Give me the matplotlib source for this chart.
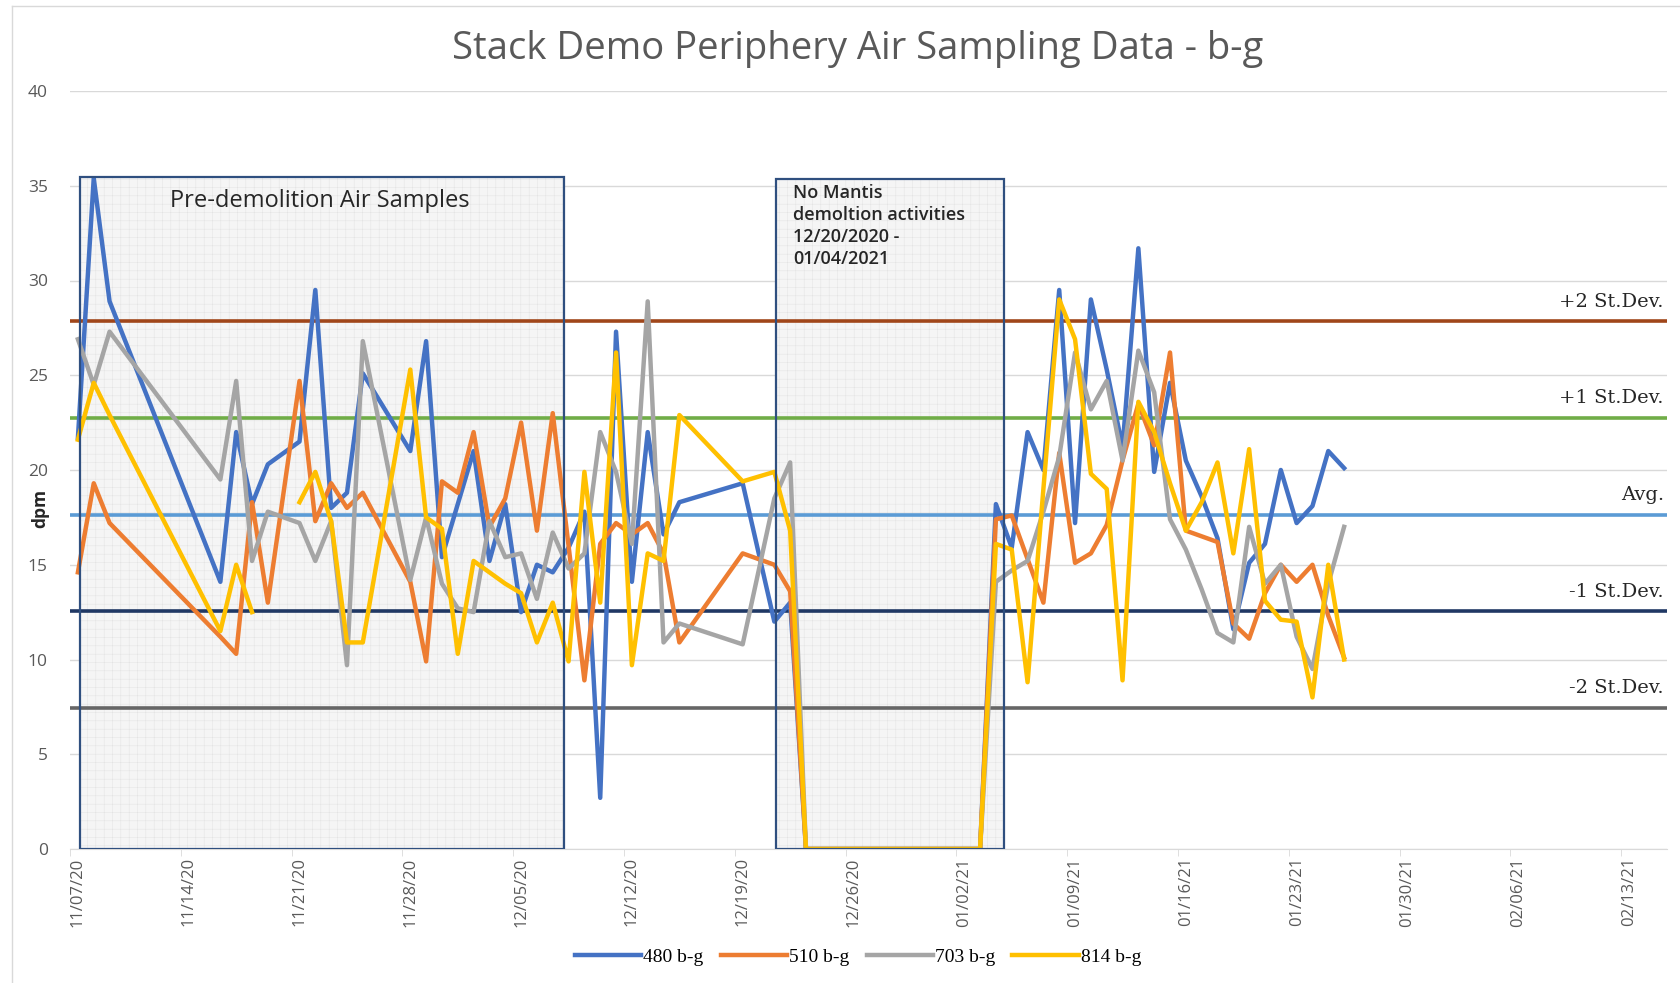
import numpy as np
import pandas as pd
import matplotlib
matplotlib.use("Agg")
import matplotlib.pyplot as plt
import matplotlib.dates as mdates
from matplotlib.patches import Rectangle
from matplotlib.lines import Line2D

# ----------------- data -----------------
start = pd.Timestamp("2020-11-07")

# days since 11/07/20 for each sample
sample_days = [0, 1, 2, 9, 10, 11, 12, 14, 15, 16, 17, 18, 21, 22, 23, 24, 25, 26, 27, 28,
               29, 30, 31, 32, 33, 34, 35, 36, 37, 38, 42, 44, 45, 46, 57, 58, 59, 60, 61, 62,
               63, 64, 65, 66, 67, 68, 69, 70, 71, 72, 73, 74, 75, 76, 77, 78, 79, 80]

s480 = [21.7, 35.4, 28.9, 14.1, 22.0, 18.2, 20.3, 21.5, 29.5, 18.0, 18.8, 25.1, 21.0, 26.8, 15.4, 18.2, 21.0, 15.2, 18.2, 12.5,
        15.0, 14.6, 15.9, 17.8, 2.7, 27.3, 14.1, 22.0, 16.6, 18.3, 19.3, 12.0, 13.0, 0, 0, 18.2, 15.9, 22.0, 20.0, 29.5,
        17.2, 29.0, 25.3, 21.2, 31.7, 19.9, 24.6, 20.5, 18.6, 16.4, 11.6, 15.1, 16.1, 20.0, 17.2, 18.1, 21.0, 20.1]

s510 = [14.6, 19.3, 17.2, 11.2, 10.3, 18.3, 13.0, 24.7, 17.3, 19.3, 18.0, 18.8, 14.1, 9.9, 19.4, 18.8, 22.0, 17.0, 18.5, 22.5,
        16.8, 23.0, 16.0, 8.9, 16.1, 17.2, 16.6, 17.2, 15.6, 10.9, 15.6, 15.0, 13.6, 0, 0, 17.4, 17.6, 15.3, 13.0, 20.9,
        15.1, 15.6, 17.1, 20.5, 23.5, 21.3, 26.2, 16.8, 16.5, 16.2, 11.9, 11.1, 13.5, 15.0, 14.1, 15.0, 12.3, 10.1]

s703 = [26.9, 24.5, 27.3, 19.5, 24.7, 15.2, 17.8, 17.2, 15.2, 17.3, 9.7, 26.8, 14.2, 17.5, 14.0, 12.7, 12.5, 17.3, 15.4, 15.6,
        13.2, 16.7, 14.8, 15.6, 22.0, 19.9, 16.1, 28.9, 10.9, 11.9, 10.8, 18.5, 20.4, 0, 0, 14.1, 14.7, 15.2, 17.8, 20.7,
        26.2, 23.2, 24.7, 20.5, 26.3, 24.1, 17.4, 15.8, 13.7, 11.4, 10.9, 17.0, 14.0, 15.0, 11.2, 9.5, 14.0, 17.0]

s814 = [21.6, 24.6, 22.9, 11.5, 15.0, 12.5, np.nan, 18.3, 19.9, 17.3, 10.9, 10.9, 25.3, 17.5, 16.9, 10.3, 15.2, 14.6, 14.0, 13.5,
        10.9, 13.0, 9.9, 19.9, 13.0, 26.2, 9.7, 15.6, 15.2, 22.9, 19.4, 19.9, 16.8, 0, 0, 16.1, 15.8, 8.8, 19.0, 29.0,
        26.9, 19.8, 19.0, 8.9, 23.6, 22.0, 19.3, 16.8, 18.3, 20.4, 15.6, 21.1, 13.1, 12.1, 12.0, 8.0, 15.0, 10.0]

series_names = ["480 b-g", "510 b-g", "703 b-g", "814 b-g"]
series_colors = ["#4472c4", "#ed7d31", "#a5a5a5", "#ffc000"]

avg_value = 17.65
std_value = 5.1
stat_labels = ["+2 St.Dev.", "+1 St.Dev.", "Avg.", "-1 St.Dev.", "-2 St.Dev."]
stat_mult = [2, 1, 0, -1, -2]
stat_colors = ["#a0461a", "#70ad47", "#5b9bd5", "#203864", "#666666"]

# shaded periods (days since start)
pre_demo = (0.13, 30.7, 35.45)
no_mantis = (44.1, 58.5, 35.35)

dates = start + pd.to_timedelta(sample_days, unit="D")

# ----------------- figure -----------------
W, H = 1681, 983
fig = plt.figure(figsize=(W / 100, H / 100), dpi=100)
plt.rcParams["hatch.linewidth"] = 0.35
ax = fig.add_axes([70 / W, 1 - 849 / H, (1667 - 70) / W, (849 - 91) / H])

def day(d):
    return mdates.date2num(start + pd.Timedelta(days=d))

# chart area border (left / top)
fig.add_artist(Line2D([12 / W, 12 / W], [0, 1 - 6 / H], color="#d9d9d9", lw=1))
fig.add_artist(Line2D([12 / W, 1], [1 - 6 / H, 1 - 6 / H], color="#d9d9d9", lw=1))

ax.set_ylim(0, 40)
ax.set_xlim(day(-0.5), day(100.4))
ax.set_yticks(np.arange(0, 41, 5))
ax.grid(axis="y", color="#d9d9d9", lw=1)
ax.set_axisbelow(True)
for s in ["top", "right", "left"]:
    ax.spines[s].set_visible(False)
ax.spines["bottom"].set_color("#d9d9d9")

# shaded boxes
for x0, x1, top in [pre_demo, no_mantis]:
    ax.add_patch(Rectangle((day(x0), 0), day(x1) - day(x0), top, facecolor="#f5f5f5",
                           edgecolor="#e3e3e3", hatch="++", lw=0, zorder=1))
    ax.add_patch(Rectangle((day(x0), 0), day(x1) - day(x0), top, fill=False,
                           edgecolor="#2f4f7f", lw=1.6, zorder=6))

# stat lines
for lab, m, c in zip(stat_labels, stat_mult, stat_colors):
    v = avg_value + m * std_value
    ax.axhline(v, color=c, lw=2.6, zorder=2)
    ax.text(day(100.2), v + 0.55, lab, ha="right", va="bottom", fontsize=14,
            family="DejaVu Serif", color="#262626", zorder=7)

# series
for vals, name, c in zip([s480, s510, s703, s814], series_names, series_colors):
    ax.plot(dates, vals, color=c, lw=3.2, label=name, zorder=3)

# box captions
ax.text(day(15.3), 34.2, "Pre-demolition Air Samples", ha="center", va="center",
        fontsize=17, family="Open Sans", color="#262626", zorder=7)
ax.text(day(45.2), 35.1, "No Mantis\ndemoltion activities\n12/20/2020 -\n01/04/2021",
        ha="left", va="top", fontsize=13, family="Open Sans", fontweight="semibold",
        color="#262626", linespacing=1.3, zorder=7)

# axes ticks
ticks = [day(7 * k) for k in range(15)]
ax.set_xticks(ticks)
ax.set_xticklabels([(start + pd.Timedelta(days=7 * k)).strftime("%m/%d/%y") for k in range(15)],
                   rotation=90, fontsize=12, color="#595959", family="Open Sans")
ax.set_xticks([day(7 * k - 0.5) for k in range(15)], minor=True)
ax.tick_params(axis="x", which="major", length=0, pad=6)
ax.tick_params(axis="x", which="minor", length=5, color="#d9d9d9")
ax.tick_params(axis="y", length=0, pad=16, labelsize=12.5, labelcolor="#595959")
for t in ax.get_yticklabels():
    t.set_family("Open Sans")

fig.text(40 / W, 1 - 509 / H, "dpm", rotation=90, ha="center", va="center",
         fontsize=12.5, fontweight="bold", color="#262626", family="Open Sans")

fig.text(858 / W, 1 - 49 / H, "Stack Demo Periphery Air Sampling Data - b-g", ha="center",
         va="center", fontsize=27.5, family="Open Sans", color="#595959")

fig.legend(loc="center", bbox_to_anchor=(858 / W, 1 - 957 / H), ncol=4, frameon=False,
           prop={"family": "Liberation Serif", "size": 14}, handlelength=3.4,
           handletextpad=0.1, columnspacing=0.9)

fig.savefig("out.png", dpi=100)
